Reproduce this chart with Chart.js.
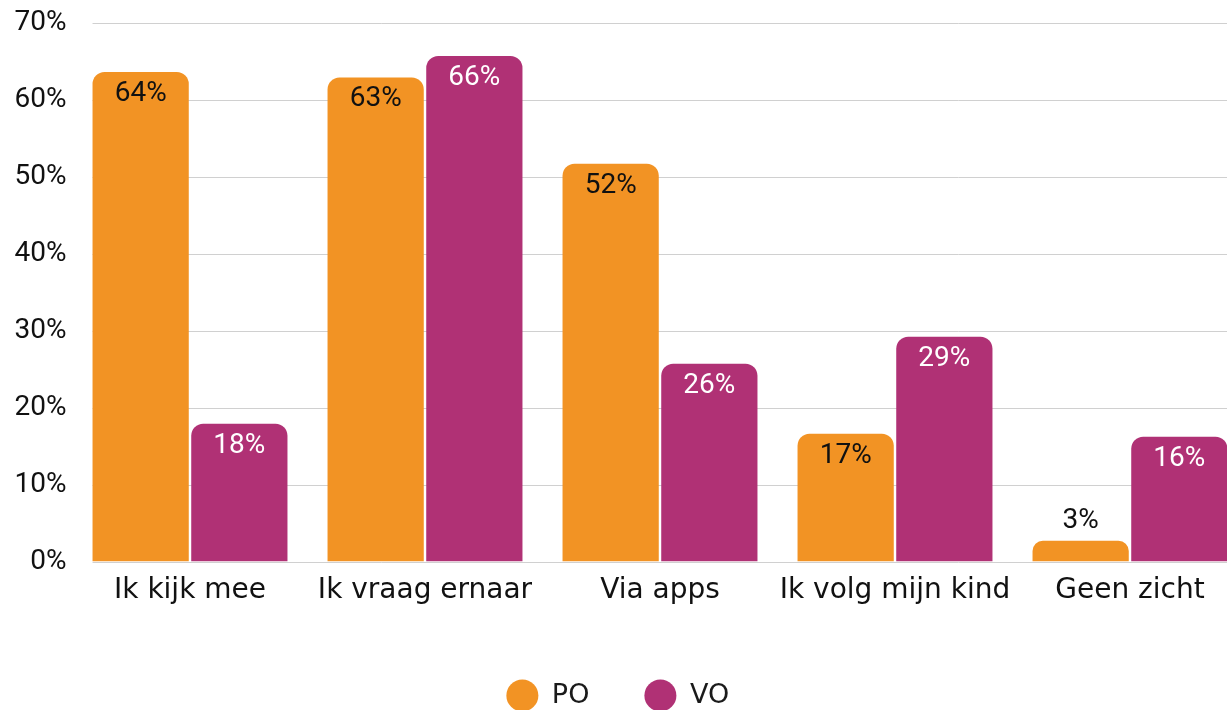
<!DOCTYPE html>
<html>
<head>
<meta charset="utf-8">
<script src="https://cdn.jsdelivr.net/npm/chart.js@4.4.1/dist/chart.umd.min.js"></script>
<style>
  html, body { margin: 0; padding: 0; background: #fff; overflow: hidden; }
  #wrap { position: relative; width: 1250px; height: 721px; }
</style>
</head>
<body>
<div id="wrap"><canvas id="chart" width="1250" height="721"></canvas></div>
<script>
const categories = ["Ik kijk mee", "Ik vraag ernaar", "Via apps", "Ik volg mijn kind", "Geen zicht"];
const poValues = [63.6, 62.9, 51.7, 16.6, 2.7];
const voValues = [17.9, 65.7, 25.7, 29.2, 16.2];
const seriesNames = ["PO", "VO"];
const yMax = 70;
const yStep = 10;

const NUM_FONT = "Roboto";
const TEXT_FONT = "DejaVu Sans";

// light grid lines that start at the first bar, like the original
const gridLines = {
    id: "gridLines",
    beforeDatasetsDraw(chart) {
        const { ctx, chartArea, scales } = chart;
        const first = chart.getDatasetMeta(0).data[0];
        const left = first.x - first.width / 2;
        ctx.save();
        ctx.strokeStyle = "#d0d0d0";
        ctx.lineWidth = 1;
        scales.y.ticks.forEach((t) => {
            const py = Math.round(scales.y.getPixelForValue(t.value)) + 0.5;
            ctx.beginPath();
            ctx.moveTo(left, py);
            ctx.lineTo(chartArea.right, py);
            ctx.stroke();
        });
        ctx.restore();
    },
};

// percentage labels inside the top of each bar (above it when the bar is too short)
const valueLabels = {
    id: "valueLabels",
    afterDatasetsDraw(chart) {
        const ctx = chart.ctx;
        ctx.save();
        ctx.font = "28px " + NUM_FONT;
        ctx.textAlign = "center";
        ctx.textBaseline = "middle";
        chart.data.datasets.forEach((ds, i) => {
            chart.getDatasetMeta(i).data.forEach((bar, j) => {
                const inside = bar.base - bar.y > 45;
                ctx.fillStyle = inside ? ds.labelColor : "#111";
                ctx.fillText(Math.round(ds.data[j]) + "%", bar.x, inside ? bar.y + 22 : bar.y - 20);
            });
        });
        ctx.restore();
    },
};

new Chart(document.getElementById("chart").getContext("2d"), {
    type: "bar",
    data: {
        labels: categories,
        datasets: [
            {
                label: seriesNames[0],
                data: poValues,
                backgroundColor: "#f29324",
                labelColor: "#111",
                borderRadius: 12,
                categoryPercentage: 0.84,
                barPercentage: 0.975,
            },
            {
                label: seriesNames[1],
                data: voValues,
                backgroundColor: "#b03175",
                labelColor: "#fff",
                borderRadius: 12,
                categoryPercentage: 0.84,
                barPercentage: 0.975,
            },
        ],
    },
    options: {
        responsive: false,
        animation: false,
        layout: { padding: { top: 13, left: -12, right: 2.5, bottom: 2 } },
        plugins: {
            tooltip: { enabled: false },
            legend: {
                position: "bottom",
                labels: {
                    usePointStyle: true,
                    pointStyle: "circle",
                    boxHeight: 22.6,
                    pointStyleWidth: 32,
                    padding: 55,
                    color: "#1a1a1a",
                    font: { family: TEXT_FONT, size: 27 },
                },
            },
        },
        scales: {
            x: {
                grid: { display: false, drawTicks: false },
                border: { display: false },
                ticks: {
                    color: "#111",
                    padding: 12,
                    maxRotation: 0,
                    minRotation: 0,
                    autoSkip: false,
                    font: { family: TEXT_FONT, size: 28 },
                },
                afterFit(axis) {
                    axis.height = 65.5;
                },
            },
            y: {
                min: 0,
                max: yMax,
                grid: { display: false, drawTicks: false },
                border: { display: false },
                ticks: {
                    stepSize: yStep,
                    padding: 6,
                    color: "#111",
                    font: { family: NUM_FONT, size: 28 },
                    callback: (v) => v + "%",
                },
                afterFit(axis) {
                    axis.width = 84.5;
                },
            },
        },
    },
    plugins: [gridLines, valueLabels],
});
</script>
</body>
</html>
